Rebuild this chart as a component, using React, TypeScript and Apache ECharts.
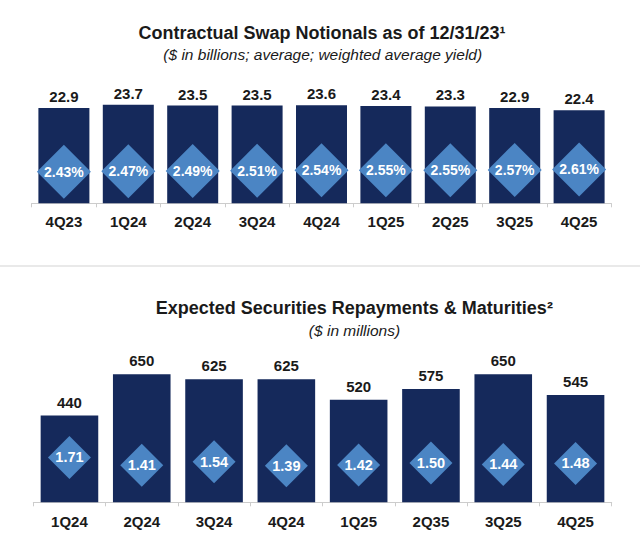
import React, { useEffect, useRef } from "react";
import * as echarts from "echarts";

const topCategories = ["4Q23", "1Q24", "2Q24", "3Q24", "4Q24", "1Q25", "2Q25", "3Q25", "4Q25"];
const topNotionals = [22.9, 23.7, 23.5, 23.5, 23.6, 23.4, 23.3, 22.9, 22.4];
const topYields = [2.43, 2.47, 2.49, 2.51, 2.54, 2.55, 2.55, 2.57, 2.61];

const bottomCategories = ["1Q24", "2Q24", "3Q24", "4Q24", "1Q25", "2Q35", "3Q25", "4Q25"];
const bottomRepayments = [440, 650, 625, 625, 520, 575, 650, 545];
const bottomYields = [1.71, 1.41, 1.54, 1.39, 1.42, 1.5, 1.44, 1.48];

const NAVY = "#15295B";
const LIGHT = "#4B85C4";
const TEXT = "#1a1a1a";
const FONT = "'Liberation Sans', Arial, Helvetica, sans-serif";

export default function App() {
  const ref = useRef<HTMLDivElement>(null);

  useEffect(() => {
    if (!ref.current) return;
    const chart = echarts.init(ref.current, undefined, { renderer: "svg" });

    const catAxis = (gridIndex: number, data: string[], margin: number) => ({
      type: "category" as const,
      gridIndex,
      data,
      boundaryGap: true,
      axisLine: { show: true, lineStyle: { color: "#cccccc", width: 1 } },
      axisTick: { show: true, length: 4, lineStyle: { color: "#cccccc" } },
      axisLabel: {
        margin,
        fontSize: 15,
        fontWeight: "bold" as const,
        color: TEXT,
        fontFamily: FONT,
      },
      splitLine: { show: false },
    });

    const hiddenY = (gridIndex: number, max: number) => ({
      type: "value" as const,
      gridIndex,
      min: 0,
      max,
      show: false,
      splitLine: { show: false },
    });

    chart.setOption({
      animation: false,
      backgroundColor: "#ffffff",
      textStyle: { fontFamily: FONT },
      grid: [
        { left: 31.7, width: 579.6, top: 78.6, height: 124.7 },
        { left: 33.3, width: 578.4, top: 344.7, height: 157.6 },
      ],
      xAxis: [catAxis(0, topCategories, 11), catAxis(1, bottomCategories, 12)],
      yAxis: [hiddenY(0, 30), hiddenY(0, 9.6), hiddenY(1, 800), hiddenY(1, 6)],
      series: [
        {
          type: "bar",
          xAxisIndex: 0,
          yAxisIndex: 0,
          data: topNotionals,
          barWidth: 51,
          itemStyle: { color: NAVY },
          label: {
            show: true,
            position: "top",
            distance: 4,
            fontSize: 15,
            fontWeight: "bold",
            color: TEXT,
            fontFamily: FONT,
            formatter: (p: any) => Number(p.value).toFixed(1),
          },
        },
        {
          type: "scatter",
          xAxisIndex: 0,
          yAxisIndex: 1,
          data: topYields,
          symbol: "diamond",
          symbolSize: [54, 54],
          itemStyle: { color: LIGHT, opacity: 1 },
          z: 5,
          label: {
            show: true,
            position: "inside",
            fontSize: 14,
            fontWeight: "bold",
            color: "#ffffff",
            fontFamily: FONT,
            formatter: (p: any) => Number(p.value).toFixed(2) + "%",
          },
        },
        {
          type: "bar",
          xAxisIndex: 1,
          yAxisIndex: 2,
          data: bottomRepayments,
          barWidth: 57.6,
          itemStyle: { color: NAVY },
          label: {
            show: true,
            position: "top",
            distance: 6,
            fontSize: 15,
            fontWeight: "bold",
            color: TEXT,
            fontFamily: FONT,
            formatter: (p: any) => String(p.value),
          },
        },
        {
          type: "scatter",
          xAxisIndex: 1,
          yAxisIndex: 3,
          data: bottomYields,
          symbol: "diamond",
          symbolSize: [43, 43],
          itemStyle: { color: LIGHT, opacity: 1 },
          z: 5,
          label: {
            show: true,
            position: "inside",
            fontSize: 14.5,
            fontWeight: "bold",
            color: "#ffffff",
            fontFamily: FONT,
            formatter: (p: any) => Number(p.value).toFixed(2),
          },
        },
      ],
      graphic: [
        {
          type: "text",
          x: 322,
          y: 32.5,
          style: {
            text: "Contractual Swap Notionals as of 12/31/23\u00b9",
            font: `bold 18px ${FONT}`,
            fill: TEXT,
            align: "center",
            verticalAlign: "middle",
          },
        },
        {
          type: "text",
          x: 322.7,
          y: 54,
          style: {
            text: "($ in billions; average; weighted average yield)",
            font: `italic 15.5px ${FONT}`,
            fill: TEXT,
            align: "center",
            verticalAlign: "middle",
          },
        },
        {
          type: "line",
          shape: { x1: 0, y1: 266, x2: 640, y2: 266 },
          style: { stroke: "#e2e2e2", lineWidth: 1.5 },
        },
        {
          type: "text",
          x: 354.3,
          y: 307.5,
          style: {
            text: "Expected Securities Repayments & Maturities\u00b2",
            font: `bold 18px ${FONT}`,
            fill: TEXT,
            align: "center",
            verticalAlign: "middle",
          },
        },
        {
          type: "text",
          x: 354.5,
          y: 330,
          style: {
            text: "($ in millions)",
            font: `italic 15.5px ${FONT}`,
            fill: TEXT,
            align: "center",
            verticalAlign: "middle",
          },
        },
      ],
    });

    return () => {
      chart.dispose();
    };
  }, []);

  return (
    <div
      ref={ref}
      style={{ position: "absolute", left: 0, top: 0, width: 640, height: 546 }}
    />
  );
}
